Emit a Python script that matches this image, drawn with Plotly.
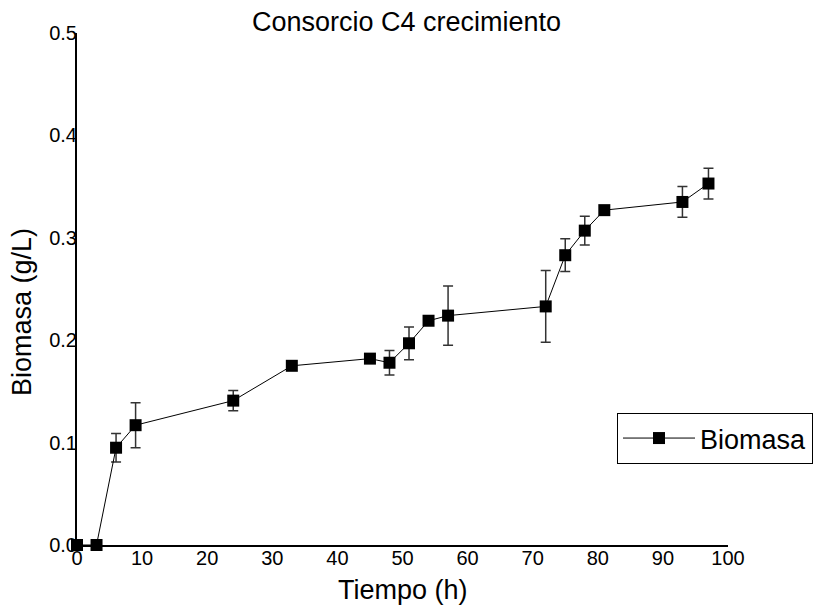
import plotly.graph_objects as go

tiempo = [0, 3, 6, 9, 24, 33, 45, 48, 51, 54, 57, 72, 75, 78, 81, 93, 97]
biomasa = [0.0, 0.0, 0.095, 0.117, 0.141, 0.175, 0.182, 0.178, 0.197, 0.219, 0.224,
           0.233, 0.283, 0.307, 0.327, 0.335, 0.353]
error = [0.0, 0.0, 0.014, 0.022, 0.010, 0.0, 0.0, 0.012, 0.016, 0.0, 0.029,
         0.035, 0.016, 0.014, 0.0, 0.015, 0.015]

FONT = "Liberation Sans, Arial, sans-serif"

fig = go.Figure()
fig.add_trace(go.Scatter(
    x=tiempo, y=biomasa, mode="lines+markers", name="Biomasa",
    line=dict(color="black", width=1),
    marker=dict(symbol="square", size=12, color="black"),
    error_y=dict(type="data", array=error, visible=True, color="#333333",
                 thickness=1.5, width=5),
    cliponaxis=False,
))

fig.update_layout(
    width=813, height=607,
    margin=dict(l=77, r=85, t=33, b=62, autoexpand=False),
    paper_bgcolor="white", plot_bgcolor="white",
    font=dict(family=FONT, color="black"),
    title=dict(text="Consorcio C4 crecimiento", x=0.5, xanchor="center",
               y=1 - 22 / 607, yanchor="middle", yref="container",
               font=dict(size=27, family=FONT, color="black")),
    showlegend=True,
    legend=dict(xref="container", yref="container", x=617 / 813, y=1 - 413 / 607,
                xanchor="left", yanchor="top",
                bordercolor="black", borderwidth=1, bgcolor="white",
                font=dict(size=27, family=FONT, color="black"),
                itemwidth=72, tracegroupgap=0),
    xaxis=dict(range=[0, 100], dtick=10, showgrid=False, zeroline=False,
               showline=True, linecolor="black", linewidth=2,
               ticks="", ticklabelstandoff=-6, automargin=False,
               tickfont=dict(size=20, family=FONT, color="black")),
    yaxis=dict(range=[0, 0.5], dtick=0.1, tickformat=".1f", showgrid=False, zeroline=False,
               showline=True, linecolor="black", linewidth=2,
               ticks="", ticklabelstandoff=-6, automargin=False,
               tickfont=dict(size=20, family=FONT, color="black")),
    annotations=[
        dict(text="Tiempo (h)", xref="paper", yref="paper", x=0.5, y=(545 - 590) / 512,
             xanchor="center", yanchor="middle", showarrow=False,
             font=dict(size=27, family=FONT, color="black")),
        dict(text="Biomasa (g/L)", xref="paper", yref="paper", x=(22 - 77) / 651,
             y=(545 - 312) / 512, xanchor="center", yanchor="middle", textangle=-90,
             showarrow=False, font=dict(size=27, family=FONT, color="black")),
    ],
)

fig.write_html("out.html", config={"displayModeBar": False},
               post_script="document.body.style.margin='0';")
